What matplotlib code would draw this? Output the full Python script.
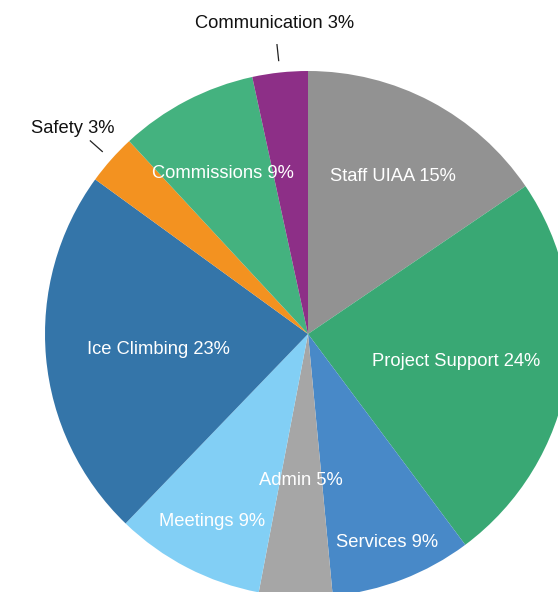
import numpy as np
import matplotlib
matplotlib.use("Agg")
import matplotlib.pyplot as plt

categories = ["Staff UIAA", "Project Support", "Services", "Admin", "Meetings",
              "Ice Climbing", "Safety", "Commissions", "Communication"]
values = [15.5, 24.3, 8.7, 4.5, 9.2, 22.8, 3.1, 8.5, 3.4]
pct_labels = ["15%", "24%", "9%", "5%", "9%", "23%", "3%", "9%", "3%"]

colors = ["#929292", "#39a874", "#4889c8", "#a6a6a6", "#82cff5",
          "#3475a9", "#f39220", "#44b27f", "#8d2f87"]
# label placement style: radius fraction (inside) or None for outside
label_r = [0.69, 0.57, 0.84, 0.55, 0.79, 0.57, None, 0.70, None]

W, H = 558, 592
fig = plt.figure(figsize=(W / 100, H / 100), dpi=100)
ax = fig.add_axes([0, 0, 1, 1])

cx, cy, R = 308, H - 334, 263
wedges, _ = ax.pie(values, colors=colors, startangle=90, counterclock=False,
                   center=(cx, cy), radius=R, frame=True,
                   wedgeprops=dict(linewidth=0))
ax.set_xlim(0, W)
ax.set_ylim(0, H)
ax.axis("off")

font = ["Liberation Sans", "DejaVu Sans"]
fs = 13.2
for w, name, pct, rf in zip(wedges, categories, pct_labels, label_r):
    mid = np.deg2rad((w.theta1 + w.theta2) / 2)
    txt = f"{name} {pct}"
    if rf is not None:
        x = cx + rf * R * np.cos(mid)
        y = cy + rf * R * np.sin(mid) - 2.5
        ax.text(x, y, txt, color="white", fontsize=fs, family=font,
                ha="center", va="center")
    else:
        x0 = cx + (R + 12) * np.cos(mid)
        y0 = cy + (R + 12) * np.sin(mid)
        x1 = cx + (R + 28) * np.cos(mid)
        y1 = cy + (R + 28) * np.sin(mid)
        ax.plot([x0, x1], [y0, y1], color="#222222", lw=0.9)
        if np.cos(mid) < -0.3:
            x2 = cx + (R + 44) * np.cos(mid)
            y2 = cy + (R + 44) * np.sin(mid)
            ax.text(x2 + 36, y2 + 2, txt, color="#111111", fontsize=fs,
                    family=font, ha="right", va="center")
        else:
            x2 = cx + (R + 49) * np.cos(mid)
            y2 = cy + (R + 49) * np.sin(mid)
            ax.text(x2, y2, txt, color="#111111", fontsize=fs,
                    family=font, ha="center", va="center")

fig.savefig("out.png", dpi=100)
